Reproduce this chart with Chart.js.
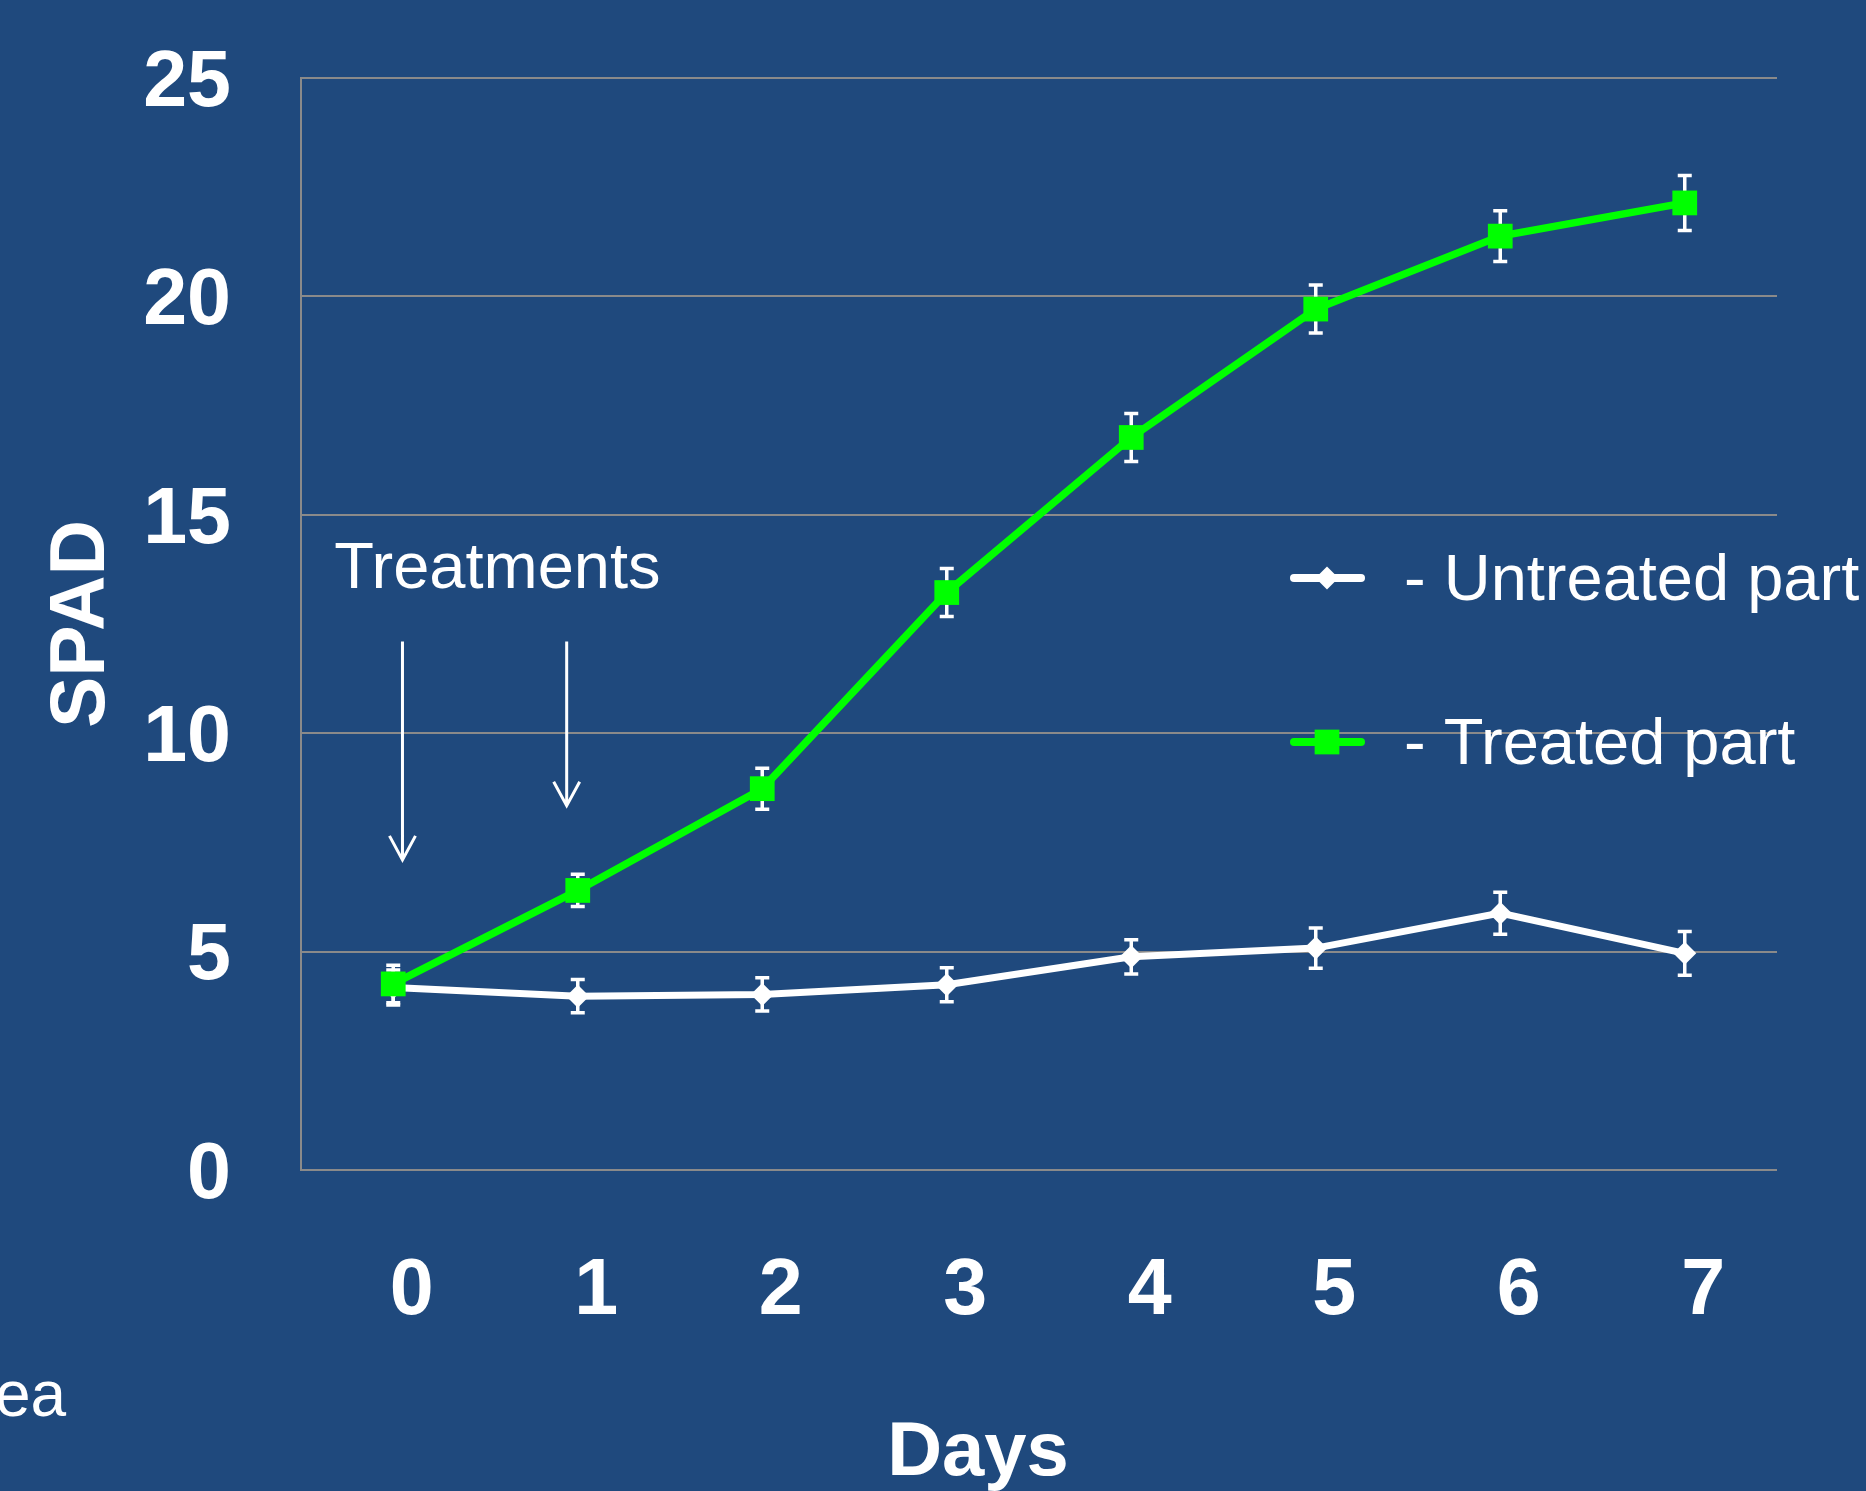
<!DOCTYPE html>
<html>
<head>
<meta charset="utf-8">
<script src="https://cdn.jsdelivr.net/npm/chart.js@4.4.0/dist/chart.umd.min.js"></script>
<style>
  html, body { margin: 0; padding: 0; background: #1F497D; }
  #c { display: block; }
</style>
</head>
<body>
<canvas id="c" width="1866" height="1491"></canvas>
<script>
// Days after the first treatment
const days = [0, 1, 2, 3, 4, 5, 6, 7];
const dayLabels = ['0', '1', '2', '3', '4', '5', '6', '7'];

// SPAD readings (mean) and their error bars
const treated      = [4.26, 6.40, 8.73, 13.22, 16.77, 19.71, 21.38, 22.14];
const treatedErr   = [0.43, 0.37, 0.47, 0.55, 0.55, 0.55, 0.58, 0.63];
const untreated    = [4.18, 3.98, 4.02, 4.24, 4.88, 5.08, 5.88, 4.96];
const untreatedErr = [0.40, 0.38, 0.38, 0.39, 0.39, 0.46, 0.48, 0.50];

const yTicks = [0, 5, 10, 15, 20, 25];
const seriesNames = ['- Treated part', '- Untreated part'];

// Treatment application arrows, in axis units (day, SPAD)
const treatmentArrows = [
  { day: 0.05, from: 12.1, to: 7.1 },
  { day: 0.94, from: 12.1, to: 8.34 }
];
const treatmentLabel = { text: 'Treatments', day: -0.32, value: 13.33 };

const GREEN = '#00FF00';
const WHITE = '#FFFFFF';
const GRID = '#8A8A8A';
const BG = '#1F497D';
const FONT = '"Liberation Sans", Arial, sans-serif';

const toPoints = (vals) => days.map((d, i) => ({ x: d, y: vals[i] }));

const background = {
  id: 'background',
  beforeDraw(chart) {
    const ctx = chart.ctx;
    ctx.save();
    ctx.fillStyle = BG;
    ctx.fillRect(0, 0, chart.width, chart.height);
    ctx.restore();
  }
};

const errorBars = {
  id: 'errorBars',
  beforeDatasetsDraw(chart) {
    const ctx = chart.ctx;
    const xs = chart.scales.x, ys = chart.scales.y;
    const sets = [[treated, treatedErr], [untreated, untreatedErr]];
    ctx.save();
    ctx.strokeStyle = WHITE;
    ctx.lineWidth = 3.5;
    sets.forEach(([vals, errs]) => {
      vals.forEach((v, i) => {
        const x = xs.getPixelForValue(days[i]);
        const yTop = ys.getPixelForValue(v + errs[i]);
        const yBot = ys.getPixelForValue(v - errs[i]);
        ctx.beginPath();
        ctx.moveTo(x, yTop); ctx.lineTo(x, yBot);
        ctx.moveTo(x - 7, yTop); ctx.lineTo(x + 7, yTop);
        ctx.moveTo(x - 7, yBot); ctx.lineTo(x + 7, yBot);
        ctx.stroke();
      });
    });
    ctx.restore();
  }
};

const annotations = {
  id: 'annotations',
  afterDraw(chart) {
    const ctx = chart.ctx;
    const xs = chart.scales.x, ys = chart.scales.y;
    const area = chart.chartArea;
    ctx.save();
    ctx.fillStyle = WHITE;
    ctx.strokeStyle = WHITE;

    // "Treatments" label and arrows
    ctx.font = '65px ' + FONT;
    ctx.textAlign = 'left';
    ctx.textBaseline = 'alphabetic';
    ctx.fillText(treatmentLabel.text, xs.getPixelForValue(treatmentLabel.day), ys.getPixelForValue(treatmentLabel.value));
    ctx.lineWidth = 3;
    treatmentArrows.forEach(a => {
      const x = xs.getPixelForValue(a.day);
      const y0 = ys.getPixelForValue(a.from);
      const y1 = ys.getPixelForValue(a.to);
      ctx.beginPath();
      ctx.moveTo(x, y0); ctx.lineTo(x, y1);
      ctx.moveTo(x - 13, y1 - 24); ctx.lineTo(x, y1); ctx.lineTo(x + 13, y1 - 24);
      ctx.stroke();
    });

    // Legend, stacked inside the plot on the right
    const entries = [
      { name: seriesNames[1], ds: chart.data.datasets[1] },
      { name: seriesNames[0], ds: chart.data.datasets[0] }
    ];
    const lx = area.left + 993;
    entries.forEach((e, k) => {
      const y = area.top + 500 + k * 164;
      ctx.strokeStyle = e.ds.borderColor;
      ctx.fillStyle = e.ds.borderColor;
      ctx.lineWidth = 8;
      ctx.lineCap = 'round';
      ctx.beginPath();
      ctx.moveTo(lx, y); ctx.lineTo(lx + 67, y);
      ctx.stroke();
      Chart.helpers.drawPoint(ctx, {
        pointStyle: e.ds.pointStyle, radius: e.ds.pointRadius, rotation: 0, borderWidth: 0
      }, lx + 33, y);
      ctx.fillStyle = WHITE;
      ctx.font = '65px ' + FONT;
      ctx.fillText(e.name, lx + 110, y + 22);
    });

    // x-axis title
    ctx.font = 'bold 76px ' + FONT;
    ctx.textAlign = 'center';
    ctx.textBaseline = 'middle';
    ctx.fillText('Days', 978, 1454);

    // text running in from the left edge
    ctx.font = '64px ' + FONT;
    ctx.textAlign = 'left';
    ctx.textBaseline = 'alphabetic';
    ctx.fillText('ea', -5, 1416);
    ctx.restore();
  }
};

new Chart(document.getElementById('c'), {
  type: 'line',
  data: {
    datasets: [
      {
        label: seriesNames[0],
        data: toPoints(treated),
        borderColor: GREEN,
        backgroundColor: GREEN,
        borderWidth: 7.5,
        pointStyle: 'rect',
        pointRadius: 17.5,
        pointBorderWidth: 0,
        pointBackgroundColor: GREEN,
        tension: 0
      },
      {
        label: seriesNames[1],
        data: toPoints(untreated),
        borderColor: WHITE,
        backgroundColor: WHITE,
        borderWidth: 7,
        pointStyle: 'rectRot',
        pointRadius: 11.5,
        pointBorderWidth: 0,
        pointBackgroundColor: WHITE,
        tension: 0
      }
    ]
  },
  options: {
    responsive: false,
    animation: false,
    devicePixelRatio: 1,
    layout: { padding: { top: 78, right: 89, left: 0, bottom: 0 } },
    plugins: { legend: { display: false }, tooltip: { enabled: false } },
    scales: {
      x: {
        type: 'linear', min: -0.5, max: 7.5, display: false
      },
      xDays: {
        type: 'linear', position: 'bottom', min: -0.6, max: 7.4,
        grid: { display: false }, border: { display: false },
        afterBuildTicks: (s) => { s.ticks = days.map(d => ({ value: d })); },
        afterFit: (s) => { s.height = 321; },
        ticks: {
          color: WHITE, padding: 67,
          font: { family: FONT, size: 79, weight: 'bold' },
          callback: (v) => dayLabels[days.indexOf(v)]
        }
      },
      y: {
        min: 0, max: 25,
        afterBuildTicks: (s) => { s.ticks = yTicks.map(v => ({ value: v })); },
        afterFit: (s) => { s.width = 301; },
        grid: { color: GRID, lineWidth: 2, drawTicks: true, tickLength: 70, tickColor: 'rgba(0,0,0,0)' },
        border: { color: GRID, width: 2 },
        ticks: {
          color: WHITE, padding: 0, labelOffset: 6,
          font: { family: FONT, size: 79, weight: 'bold' }
        },
        title: {
          display: true, text: 'SPAD', color: WHITE,
          font: { family: FONT, size: 77, weight: 'bold' },
          padding: { top: 37, bottom: 0 }
        }
      }
    }
  },
  plugins: [background, errorBars, annotations]
});
</script>
</body>
</html>
